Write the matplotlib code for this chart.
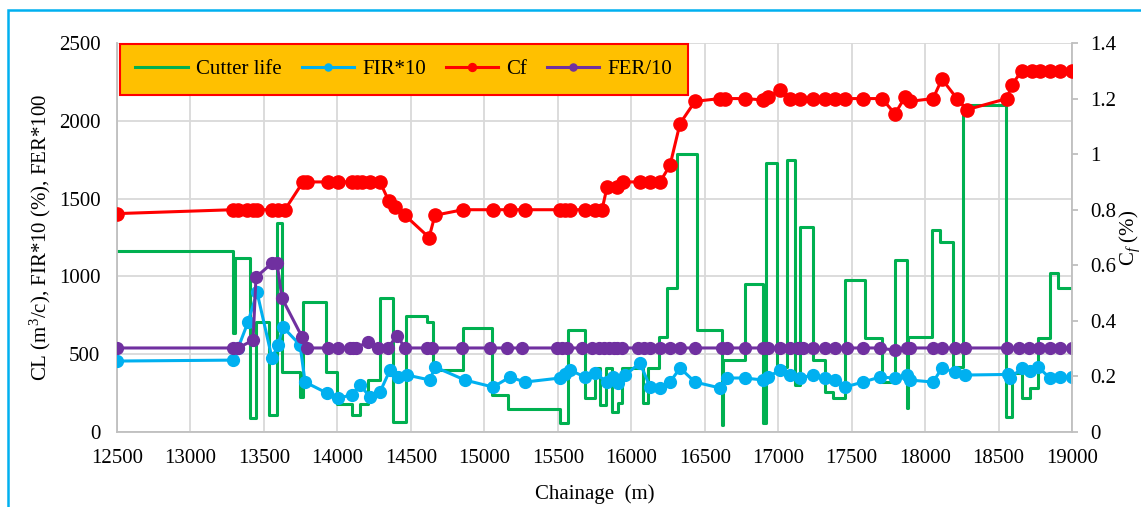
import matplotlib
matplotlib.use('Agg')
import matplotlib.pyplot as plt
from matplotlib.patches import Rectangle
from matplotlib.ticker import FuncFormatter, MultipleLocator

plt.rcParams['font.family'] = 'Liberation Serif'
plt.rcParams['mathtext.fontset'] = 'custom'
plt.rcParams['mathtext.rm'] = 'Liberation Serif'
plt.rcParams['mathtext.it'] = 'Liberation Serif:italic'

# Cutter life (m3/cutter): step start chainage and value
cl_x = [12500, 13290, 13303, 13405, 13446, 13534, 13589, 13623, 13746, 13766,
        13922, 13997, 14100, 14154, 14208, 14290, 14378, 14467, 14610, 14650,
        14854, 15052, 15161, 15515, 15570, 15685, 15753, 15787, 15830, 15870,
        15910, 15940, 16080, 16114, 16189, 16243, 16311, 16447, 16617, 16625,
        16774, 16897, 16920, 16992, 17060, 17115, 17148, 17237, 17319, 17375,
        17455, 17590, 17707, 17795, 17877, 17884, 18047, 18100, 18190, 18258,
        18550, 18591, 18659, 18714, 18768, 18850, 18905]
cl_y = [1163, 636, 1117, 90, 707, 109, 1343, 385, 225, 835,
        385, 180, 109, 180, 334, 861, 64, 745, 707, 398,
        668, 238, 148, 58, 655, 218, 411, 173, 411, 128,
        186, 411, 186, 411, 610, 925, 1786, 655, 45, 462,
        951, 58, 1728, 418, 1747, 300, 1317, 460, 257, 218,
        976, 604, 321, 1105, 154, 610, 1298, 1221, 418, 2100,
        96, 379, 218, 283, 604, 1021, 925]

# FIR*10
fir_x = [12500, 13290, 13324, 13392, 13453, 13555, 13596, 13630, 13746, 13780,
         13929, 14004, 14099, 14154, 14222, 14290, 14358, 14412, 14474, 14630,
         14664, 14868, 15059, 15175, 15277, 15515, 15549, 15583, 15685, 15753,
         15835, 15876, 15910, 15958, 16060, 16128, 16196, 16264, 16332, 16434,
         16604, 16652, 16774, 16897, 16931, 17012, 17080, 17148, 17237, 17319,
         17387, 17455, 17577, 17693, 17795, 17877, 17897, 18054, 18115, 18203,
         18271, 18564, 18578, 18659, 18714, 18768, 18850, 18918, 19000]
fir_y = [456, 462, 540, 707, 899, 475, 559, 674, 559, 321,
         250, 218, 238, 302, 225, 257, 398, 353, 366, 334,
         418, 334, 289, 353, 321, 347, 370, 398, 353, 379,
         321, 353, 315, 366, 443, 289, 283, 321, 411, 321,
         283, 347, 347, 334, 353, 398, 366, 347, 366, 347,
         334, 289, 321, 353, 347, 366, 334, 321, 411, 385,
         366, 370, 345, 411, 390, 418, 347, 353, 353]

# Cf (%), secondary axis
cf_x = [12500, 13290, 13324, 13385, 13426, 13453, 13555, 13596, 13643, 13766,
        13793, 13936, 14004, 14099, 14133, 14167, 14222, 14290, 14351, 14392,
        14460, 14624, 14664, 14855, 15059, 15175, 15277, 15515, 15549, 15583,
        15685, 15753, 15801, 15835, 15903, 15944, 16060, 16128, 16196, 16264,
        16332, 16434, 16604, 16638, 16774, 16897, 16931, 17012, 17080, 17148,
        17237, 17319, 17387, 17455, 17577, 17707, 17795, 17863, 17897, 18054,
        18115, 18217, 18285, 18557, 18591, 18659, 18727, 18782, 18850, 18918,
        19000]
cf_y = [0.786, 0.80, 0.80, 0.80, 0.80, 0.80, 0.80, 0.80, 0.80, 0.90,
        0.90, 0.90, 0.90, 0.90, 0.90, 0.90, 0.90, 0.90, 0.83, 0.81,
        0.78, 0.70, 0.78, 0.80, 0.80, 0.80, 0.80, 0.80, 0.80, 0.80,
        0.80, 0.80, 0.80, 0.88, 0.88, 0.90, 0.90, 0.90, 0.90, 0.96,
        1.11, 1.19, 1.20, 1.20, 1.20, 1.195, 1.205, 1.23, 1.20, 1.20,
        1.20, 1.20, 1.20, 1.20, 1.20, 1.20, 1.145, 1.205, 1.19, 1.20,
        1.27, 1.20, 1.16, 1.20, 1.25, 1.30, 1.30, 1.30, 1.30, 1.30,
        1.30]

# FER/10
fer_x = [12500, 13290, 13324, 13426, 13446, 13555, 13589, 13623, 13760, 13793,
         13936, 14004, 14086, 14106, 14127, 14208, 14276, 14344, 14406, 14460,
         14610, 14644, 14848, 15038, 15154, 15256, 15495, 15529, 15563, 15665,
         15733, 15781, 15815, 15849, 15883, 15903, 15937, 16046, 16087, 16128,
         16196, 16264, 16332, 16434, 16618, 16652, 16774, 16897, 16931, 17012,
         17080, 17135, 17169, 17237, 17319, 17387, 17468, 17577, 17693, 17795,
         17877, 17897, 18054, 18115, 18203, 18271, 18557, 18639, 18707, 18775,
         18850, 18918, 19000]
fer_y = [540, 540, 540, 590, 995, 1085, 1085, 860, 610, 540,
         540, 540, 540, 540, 540, 580, 540, 540, 620, 540,
         540, 540, 540, 540, 540, 540, 540, 540, 540, 540,
         540, 540, 540, 540, 540, 540, 540, 540, 540, 540,
         540, 540, 540, 540, 540, 540, 540, 540, 540, 540,
         540, 540, 540, 540, 540, 540, 540, 540, 540, 525,
         540, 540, 540, 540, 540, 540, 540, 540, 540, 540,
         540, 540, 540]

x_end = 19000
fs = 15

fig = plt.figure(figsize=(11.41, 5.07), dpi=100)
ax = fig.add_axes([117 / 1141, 1 - 432 / 507, (1072 - 117) / 1141, (432 - 43) / 507])
ax2 = ax.twinx()

h1, = ax.plot(cl_x + [x_end], cl_y + [cl_y[-1]], drawstyle='steps-post',
              color='#00B050', lw=2.2, label='Cutter life', zorder=2)
h2, = ax.plot(fir_x, fir_y, color='#00B0F0', lw=2.2, marker='o', ms=8.5,
              label='FIR*10', zorder=3)
h4, = ax.plot(fer_x, fer_y, color='#7030A0', lw=2.2, marker='o', ms=8.5,
              label='FER/10', zorder=4)
h3, = ax2.plot(cf_x, cf_y, color='#FF0000', lw=2.2, marker='o', ms=9.5,
               label='Cf', zorder=3)

ax.set_xlim(12500, 19000)
ax.set_ylim(0, 2500)
ax2.set_ylim(0, 1.4)
ax.xaxis.set_major_locator(MultipleLocator(500))
ax.yaxis.set_major_locator(MultipleLocator(500))
ax2.yaxis.set_major_locator(MultipleLocator(0.2))
ax2.yaxis.set_major_formatter(FuncFormatter(lambda v, p: f'{v:g}'))

ax.grid(color='#D9D9D9', lw=1.3)
ax.set_axisbelow(True)

for s in ['top', 'right']:
    ax.spines[s].set_visible(False)
for s in ['left', 'bottom']:
    ax.spines[s].set_color('#BFBFBF')
    ax.spines[s].set_linewidth(1.3)
for s in ['top', 'left', 'bottom']:
    ax2.spines[s].set_visible(False)
ax2.spines['right'].set_color('#BFBFBF')
ax2.spines['right'].set_linewidth(1.3)

ax.tick_params(axis='y', length=0, labelsize=fs, pad=12)
ax.tick_params(axis='x', length=0, labelsize=fs, pad=12)
ax2.tick_params(axis='y', length=4, width=1.3, color='#BFBFBF', labelsize=fs, pad=9)

ax.set_xlabel('Chainage  (m)', fontsize=fs, labelpad=12)
ax.set_ylabel('CL (m$^3$/c), FIR*10 (%), FER*100', fontsize=fs, labelpad=4)
ax2.set_ylabel('C$_f$ (%)', fontsize=fs, labelpad=1)

leg = ax2.legend([h1, h2, h3, h4], ['Cutter life', 'FIR*10', 'Cf', 'FER/10'],
                 ncol=4, loc='upper left', mode='expand', borderaxespad=0,
                 bbox_to_anchor=(0.003, 0.874, 0.595, 0.123),
                 fontsize=fs, fancybox=False, framealpha=1, handlelength=2.5,
                 borderpad=0.75, markerscale=0.6, columnspacing=1.0, handletextpad=0.4)
leg.get_frame().set_facecolor('#FFC000')
leg.get_frame().set_edgecolor('#FF0000')
leg.get_frame().set_linewidth(1.5)

fig.patches.append(Rectangle((8 / 1141, -0.1), 1.2, (507 - 10) / 507 + 0.1,
                             transform=fig.transFigure, fill=False,
                             ec='#00B0F0', lw=1.8))

fig.savefig('out.png', dpi=100)
